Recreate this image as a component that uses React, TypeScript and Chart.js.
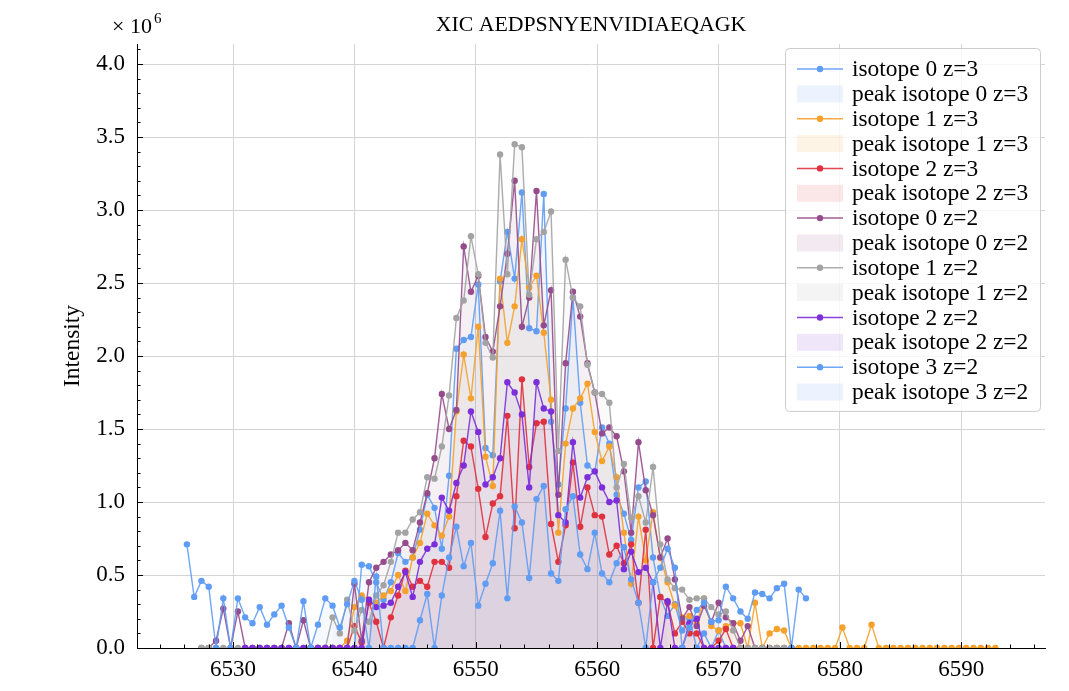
import React, { useEffect, useRef } from "react";
import { Chart, registerables } from "chart.js";

Chart.register(...registerables);

const FONT = "'Liberation Serif', 'Times New Roman', serif";

const TITLE = "XIC AEDPSNYENVIDIAEQAGK";
const Y_TITLE = "Intensity";
const Y_MULT_BASE = "× 10";
const Y_MULT_EXP = "6";

// retention-time grid of the scans
const RT_START = 6526.2;
const RT_STEP = 0.6;

const X_MIN = 6522.09;
const X_MAX = 6596.89;
const Y_MAX = 4.137; // ×10^6
const X_TICK_STEP = 10;
const Y_TICK_STEP = 0.5;

const SERIES_LABELS = [
  "isotope 0 z=3",
  "isotope 1 z=3",
  "isotope 2 z=3",
  "isotope 0 z=2",
  "isotope 1 z=2",
  "isotope 2 z=2",
  "isotope 3 z=2",
];

const SERIES_COLORS = ["#5f9cf4", "#f5a12b", "#e0313f", "#964b8c", "#a3a3a3", "#7b2ed9", "#5f9cf4"];

// intensities in units of 10^6; each series starts at a scan index of the RT grid
const ISO0_Z3_START = 18;
const ISO0_Z3 = [
  0, 0, 0, 0, 0, 0,
  0.57, 0.56, 0.45, 0.33, 0.45, 0.65, 0.59, 0.62, 0.81, 1.05, 0.96, 0.68, 1.18,
  2.05, 2.11, 2.13, 2.49, 1.37, 1.32, 2.51, 2.85, 2.53, 3.12, 2.19, 2.17, 3.11,
  1.55, 1.12, 1.64, 2.4, 1.68, 1.25, 1.21, 1.51, 1.4, 1.05, 0.92, 0.74, 1.1, 1.14,
  0.62, 0.35, 0.22, 0.3, 0.12, 0.2, 0, 0.1, 0, 0.12, 0, 0,
];

const ISO1_Z3_START = 18;
const ISO1_Z3 = [
  0, 0, 0, 0, 0.05,
  0.28, 0.36, 0.33, 0.31, 0.36, 0.39, 0.5, 0.39, 0.62, 0.72, 0.92, 0.84, 0.77, 0.9,
  1.62, 2.01, 1.71, 2.2, 1.31, 1.11, 2.53, 2.09, 2.34, 2.8, 2.47, 2.55, 2.16, 1.7,
  0.79, 1.4, 1.64, 1.71, 1.81, 1.48, 1.28, 1.38, 1.17, 0.79, 0.44, 0.9, 0.6, 0.93,
  0.62, 0.45, 0.29, 0.21, 0.22, 0.17, 0.34, 0.15, 0.12, 0.15, 0.17, 0.17, 0, 0.31, 0, 0.1, 0.13, 0.12, 0,
  0, 0, 0, 0, 0, 0, 0.14, 0, 0, 0, 0.16, 0, 0, 0, 0, 0, 0, 0, 0, 0, 0, 0, 0, 0, 0, 0, 0, 0,
];

const ISO2_Z3_START = 20;
const ISO2_Z3 = [
  0, 0, 0,
  0.15, 0.04, 0.31, 0.18, 0, 0.21, 0.36, 0.53, 0.42, 0.46, 0.42, 0.59, 0.59, 0.55,
  1.04, 1.42, 1.38, 1.09, 0.76, 0.99, 1.04, 1.59, 0.82, 1.84, 1.24, 1.54, 1.55, 0.85,
  0.59, 0.84, 1.27, 0.83, 1.1, 0.91, 0.9, 0.64, 0.7, 0.58, 0.71, 0.31, 0.81, 0,
  0.35, 0.31, 0.1, 0.18, 0.1, 0.1, 0, 0, 0.05, 0.13, 0, 0,
];

const ISO0_Z2_START = 2;
const ISO0_Z2 = [
  0, 0, 0.05, 0.27, 0, 0.25, 0, 0, 0, 0, 0, 0,
  0.17, 0, 0.19, 0, 0, 0, 0, 0, 0,
  0.44, 0.05, 0.45, 0.55, 0.59, 0.64, 0.67, 0.72, 0.67, 0.86, 1.06, 1.3, 1.74, 1.5,
  1.63, 2.75, 2.44, 2.55, 2.13, 2.03, 2.34, 2.7, 3.2, 2.2, 2.4, 3.13, 2.21, 2.45,
  1.05, 1.95, 2.44, 2.27, 1.95, 1.75, 1.47, 1.51, 1.45, 1.21, 0.79, 1.41, 1.08, 0.91,
  0.62, 0.75, 0.47, 0.2, 0.28, 0.15, 0.29, 0.18, 0.31, 0.21, 0.17, 0.05, 0.15, 0, 0, 0, 0, 0, 0,
];

const ISO1_Z2_START = 2;
const ISO1_Z2 = [
  0, 0, 0, 0, 0, 0, 0, 0, 0, 0, 0, 0, 0, 0, 0, 0, 0, 0,
  0.21, 0.1, 0.33, 0.12, 0.26, 0.18, 0.36, 0.43, 0.59, 0.79, 0.79, 0.88, 0.93, 1.17, 1.16, 1.38, 1.73,
  2.26, 2.38, 2.82, 2.56, 2.09, 1.99, 3.38, 2.56, 3.45, 3.43, 2.42, 2.8, 2.85, 2.99,
  1.35, 2.66, 2.4, 2.34, 1.94, 1.75, 1.74, 1.68, 1.1, 1.26, 0.89, 1.04, 0.86, 1.24,
  0.71, 0.47, 0.41, 0.4, 0.33, 0.34, 0.34, 0.28, 0.23, 0.25, 0.12, 0, 0, 0, 0, 0, 0, 0, 0,
];

const ISO2_Z2_START = 8;
const ISO2_Z2 = [
  0, 0, 0, 0, 0, 0, 0, 0, 0, 0, 0, 0, 0, 0, 0, 0, 0,
  0.33, 0.28, 0.29, 0.31, 0.42, 0.52, 0.35, 0.59, 0.68, 0.71, 1.03, 0.94,
  1.13, 1.25, 1.62, 1.48, 1.12, 1.17, 1.3, 1.82, 1.75, 1.6, 1.1, 1.82, 1.64, 1.62,
  0.91, 0.86, 1.41, 1.03, 1.17, 1.21, 1.1, 1.0, 1.01, 0.54, 0.66, 0.52, 0.55, 0.45,
  0, 0.32, 0, 0, 0.17, 0.2, 0, 0, 0, 0, 0,
];

const ISO3_Z2_START = 0;
const ISO3_Z2 = [
  0.71, 0.35, 0.46, 0.42, 0, 0.34, 0, 0.34, 0.21, 0.17, 0.28, 0.16, 0.23, 0.29, 0.14, 0,
  0.32, 0, 0.16, 0.34, 0.29, 0.14, 0.3, 0.46, 0.33, 0, 0.49, 0, 0, 0, 0, 0,
  0.19, 0.37, 0, 0.36, 0.62, 0.83, 0.56, 0.72, 0.29, 0.44, 0.58, 0.94, 0.34, 0.97, 0.86, 0.48,
  1.02, 1.11, 0.51, 0.46, 0.95, 1.04, 0.64, 0.54, 0.79, 0.51, 0.45, 0.58, 0.69, 0.47, 0.31, 0,
  0.45, 0.55, 0.68, 0.55, 0, 0.14, 0.26, 0.31, 0.18, 0.19, 0.42, 0.34, 0.25, 0.2, 0.38, 0.37,
  0.34, 0.41, 0.44, 0, 0.4, 0.34,
];

// integrated peak boundaries (RT) for each series
const PEAK_RANGES = [
  [6540.6, 6565.8],
  [6539.4, 6576.0],
  [6540.0, 6568.2],
  [6540.0, 6573.0],
  [6538.2, 6571.2],
  [6541.2, 6568.8],
  [6535.8, 6564.0],
];

const SERIES_STARTS = [ISO0_Z3_START, ISO1_Z3_START, ISO2_Z3_START, ISO0_Z2_START, ISO1_Z2_START, ISO2_Z2_START, ISO3_Z2_START];
const SERIES_VALUES = [ISO0_Z3, ISO1_Z3, ISO2_Z3, ISO0_Z2, ISO1_Z2, ISO2_Z2, ISO3_Z2];

const FILL_ALPHA = 0.055;
const SWATCH_ALPHA = 0.12;

function rgba(hex: string, a: number) {
  const n = parseInt(hex.slice(1), 16);
  return `rgba(${(n >> 16) & 255},${(n >> 8) & 255},${n & 255},${a})`;
}

function toPoints(start: number, vals: number[]) {
  return vals.map((v, k) => ({ x: +(RT_START + RT_STEP * (start + k)).toFixed(3), y: v }));
}

const decorPlugin = {
  id: "decor",
  afterDraw(chart: any) {
    const { ctx, chartArea } = chart;
    const xs = chart.scales.x;
    const ys = chart.scales.y;
    ctx.save();
    // inward ticks
    ctx.strokeStyle = "#000";
    ctx.lineWidth = 1;
    ctx.beginPath();
    for (let k = 0; k / 10 <= Y_MAX; k++) {
      const y = Math.round(ys.getPixelForValue(k / 10)) + 0.5;
      const len = k % 5 === 0 ? 6 : 3.5;
      ctx.moveTo(chartArea.left, y);
      ctx.lineTo(chartArea.left + len, y);
    }
    for (let v = 6524; v <= X_MAX; v += 2) {
      const x = Math.round(xs.getPixelForValue(v)) + 0.5;
      const len = v % 10 === 0 ? 6 : 3.5;
      ctx.moveTo(x, chartArea.bottom);
      ctx.lineTo(x, chartArea.bottom - len);
    }
    ctx.stroke();

    // title
    ctx.fillStyle = "#000";
    ctx.textBaseline = "alphabetic";
    ctx.textAlign = "center";
    ctx.font = `21.8px ${FONT}`;
    ctx.fillText(TITLE, (chartArea.left + chartArea.right) / 2, 31);

    // multiplier
    ctx.textAlign = "left";
    ctx.font = `22px ${FONT}`;
    ctx.fillText(Y_MULT_BASE, 112, 33);
    const w = ctx.measureText(Y_MULT_BASE).width;
    ctx.font = `15px ${FONT}`;
    ctx.fillText(Y_MULT_EXP, 112 + w + 2, 23);

    // legend
    const datasets = chart.data.datasets;
    const bw = 255;
    const rowH = 24.85;
    const bx = chartArea.right - bw - 5;
    const by = chartArea.top + 4;
    const bh = rowH * datasets.length + 15;
    ctx.fillStyle = "rgba(255,255,255,0.8)";
    ctx.strokeStyle = "#cccccc";
    ctx.lineWidth = 1;
    ctx.beginPath();
    ctx.roundRect(bx + 0.5, by + 0.5, bw, bh, 4);
    ctx.fill();
    ctx.stroke();
    ctx.font = `23.4px ${FONT}`;
    ctx.textBaseline = "middle";
    datasets.forEach((ds: any, i: number) => {
      const cy = by + 21 + i * rowH;
      const lx0 = bx + 12;
      const lx1 = bx + 58;
      if (ds.isPeak) {
        ctx.fillStyle = ds.swatchColor;
        ctx.fillRect(lx0, cy - 8.5, lx1 - lx0, 17);
      } else {
        ctx.strokeStyle = ds.borderColor;
        ctx.lineWidth = 1.5;
        ctx.beginPath();
        ctx.moveTo(lx0, cy);
        ctx.lineTo(lx1, cy);
        ctx.stroke();
        ctx.fillStyle = ds.pointBackgroundColor;
        ctx.beginPath();
        ctx.arc((lx0 + lx1) / 2, cy, 3.2, 0, Math.PI * 2);
        ctx.fill();
      }
      ctx.fillStyle = "#000";
      ctx.fillText(ds.label, bx + 67, cy + 1);
    });
    ctx.restore();
  },
};

export default function App() {
  const ref = useRef<HTMLCanvasElement | null>(null);
  useEffect(() => {
    if (!ref.current) return;
    const datasets: any[] = [];
    SERIES_LABELS.forEach((label, j) => {
      const pts = toPoints(SERIES_STARTS[j], SERIES_VALUES[j]);
      const color = SERIES_COLORS[j];
      const [a, b] = PEAK_RANGES[j];
      datasets.push({
        label,
        data: pts,
        borderColor: rgba(color, 0.9),
        backgroundColor: color,
        pointBackgroundColor: color,
        pointBorderWidth: 0,
        pointRadius: 3.2,
        pointHoverRadius: 3.2,
        borderWidth: 1.4,
        tension: 0,
        fill: false,
        order: 6 - j,
      });
      datasets.push({
        label: "peak " + label,
        isPeak: true,
        swatchColor: rgba(color, SWATCH_ALPHA),
        data: pts.filter((p) => p.x >= a - 1e-6 && p.x <= b + 1e-6),
        borderColor: "rgba(0,0,0,0)",
        borderWidth: 0,
        pointRadius: 0,
        pointHoverRadius: 0,
        backgroundColor: rgba(color, FILL_ALPHA),
        fill: "origin",
        order: 100 - j,
      });
    });

    const tickFont = { family: FONT, size: 23 };
    const chart = new Chart(ref.current, {
      type: "line",
      data: { datasets },
      options: {
        animation: false,
        responsive: true,
        maintainAspectRatio: false,
        events: [],
        layout: { padding: { top: 44, right: 24, bottom: 0, left: 0 } },
        plugins: { legend: { display: false }, title: { display: false }, tooltip: { enabled: false } },
        scales: {
          x: {
            type: "linear",
            min: X_MIN,
            max: X_MAX,
            ticks: {
              stepSize: X_TICK_STEP,
              includeBounds: false,
              autoSkip: false,
              maxRotation: 0,
              padding: 8,
              color: "#000",
              font: tickFont,
              callback: (v: any) => String(Math.round(Number(v))),
            },
            grid: { color: "#d4d4d4", drawTicks: false, lineWidth: 1 },
            border: { display: true, color: "#000", width: 1 },
            afterFit: (s: any) => {
              s.height = 43;
            },
          },
          y: {
            type: "linear",
            min: 0,
            max: Y_MAX,
            ticks: {
              stepSize: Y_TICK_STEP,
              includeBounds: false,
              padding: 12,
              color: "#000",
              font: tickFont,
              callback: (v: any) => Number(v).toFixed(1),
            },
            grid: { color: "#d4d4d4", drawTicks: false, lineWidth: 1 },
            border: { display: true, color: "#000", width: 1 },
            title: {
              display: true,
              text: Y_TITLE,
              color: "#000",
              font: { family: FONT, size: 23.5 },
              padding: { top: 59, bottom: 0 },
            },
            afterFit: (s: any) => {
              s.width = 137;
            },
          },
        },
      } as any,
      plugins: [decorPlugin],
    });
    return () => chart.destroy();
  }, []);

  return (
    <div style={{ position: "fixed", left: 0, top: 0, width: 1069, height: 691, background: "#fff" }}>
      <canvas ref={ref} />
    </div>
  );
}
